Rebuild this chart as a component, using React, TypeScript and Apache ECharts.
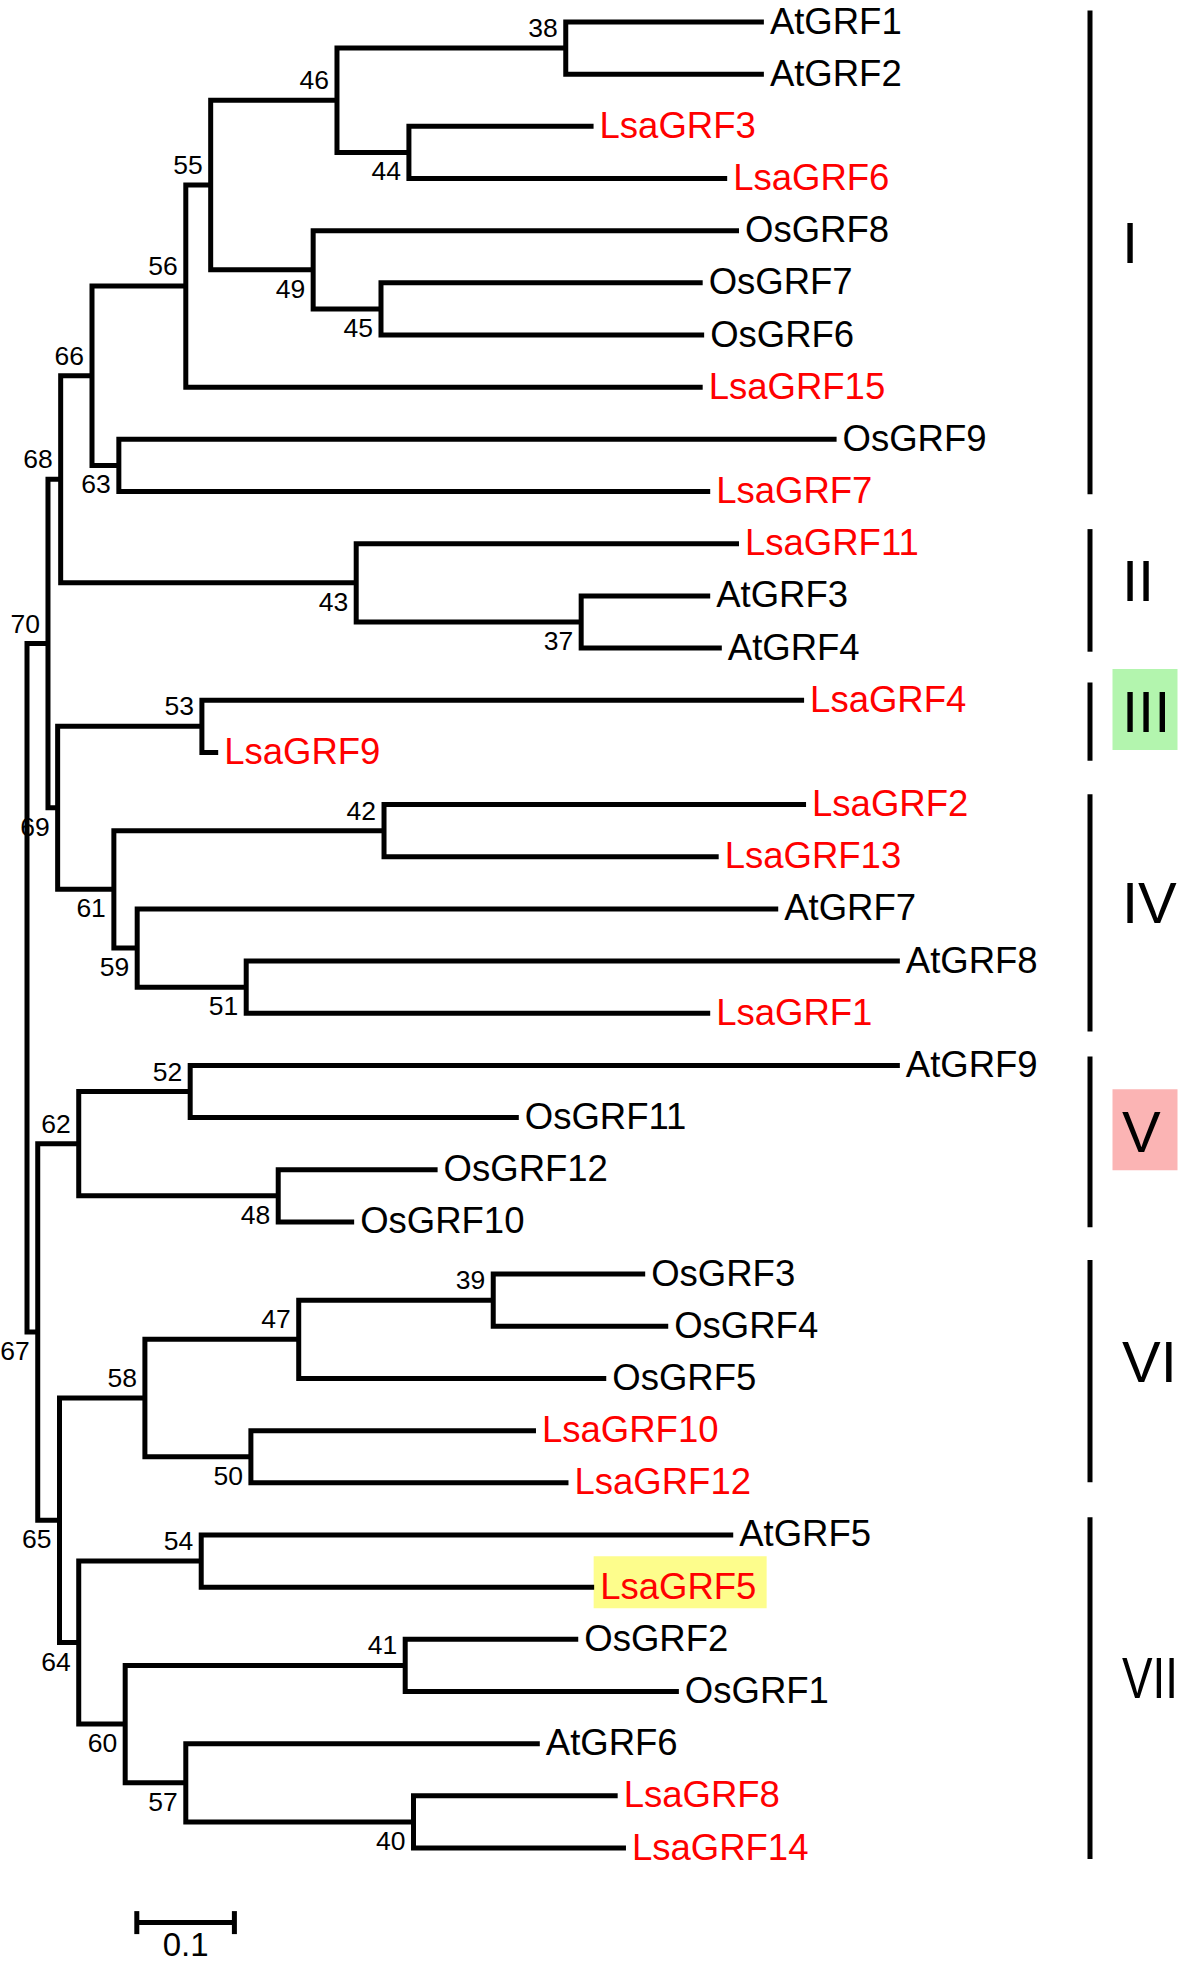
import { useEffect, useRef } from "react";
import * as echarts from "echarts";

// ---------------- data ----------------
const leafNames = [
  "AtGRF1", "AtGRF2", "LsaGRF3", "LsaGRF6", "OsGRF8", "OsGRF7", "OsGRF6", "LsaGRF15",
  "OsGRF9", "LsaGRF7", "LsaGRF11", "AtGRF3", "AtGRF4", "LsaGRF4", "LsaGRF9", "LsaGRF2",
  "LsaGRF13", "AtGRF7", "AtGRF8", "LsaGRF1", "AtGRF9", "OsGRF11", "OsGRF12", "OsGRF10",
  "OsGRF3", "OsGRF4", "OsGRF5", "LsaGRF10", "LsaGRF12", "AtGRF5", "LsaGRF5", "OsGRF2",
  "OsGRF1", "AtGRF6", "LsaGRF8", "LsaGRF14",
];
// distance from the root (substitutions per site)
const leafDepth = [
  0.755, 0.755, 0.5805, 0.7174, 0.7295, 0.6923, 0.6938, 0.6923,
  0.8295, 0.7, 0.7295, 0.7, 0.7119, 0.7962, 0.1959, 0.7982,
  0.7087, 0.7697, 0.8943, 0.7, 0.8943, 0.5039, 0.4207, 0.3352,
  0.6334, 0.657, 0.5935, 0.5215, 0.5548, 0.7236, 0.5811, 0.5648,
  0.6679, 0.5254, 0.6052, 0.6137,
];

const nodeIds = [
  "root", "n70", "n68", "n66", "n56", "n55", "n46", "n38", "n44", "n49", "n45", "n63",
  "n43", "n37", "n69", "n53", "n61", "n42", "n59", "n51", "n67", "n62", "n52", "n48",
  "n65", "n58", "n47", "n39", "n50", "n64", "n54", "n60", "n41", "n57", "n40",
];
const nodeChildren = [
  ["n70", "n67"], ["n68", "n69"], ["n66", "n43"], ["n56", "n63"], ["n55", "LsaGRF15"],
  ["n46", "n49"], ["n38", "n44"], ["AtGRF1", "AtGRF2"], ["LsaGRF3", "LsaGRF6"],
  ["OsGRF8", "n45"], ["OsGRF7", "OsGRF6"], ["OsGRF9", "LsaGRF7"], ["LsaGRF11", "n37"],
  ["AtGRF3", "AtGRF4"], ["n53", "n61"], ["LsaGRF4", "LsaGRF9"], ["n42", "n59"],
  ["LsaGRF2", "LsaGRF13"], ["AtGRF7", "n51"], ["AtGRF8", "LsaGRF1"], ["n62", "n65"],
  ["n52", "n48"], ["AtGRF9", "OsGRF11"], ["OsGRF12", "OsGRF10"], ["n58", "n64"],
  ["n47", "n50"], ["n39", "OsGRF5"], ["OsGRF3", "OsGRF4"], ["LsaGRF10", "LsaGRF12"],
  ["n54", "n60"], ["AtGRF5", "LsaGRF5"], ["n41", "n57"], ["OsGRF2", "OsGRF1"],
  ["AtGRF6", "n40"], ["LsaGRF8", "LsaGRF14"],
];
const nodeDepth = [
  0, 0.0215, 0.0345, 0.0666, 0.1627, 0.1882, 0.3176, 0.552, 0.3913, 0.2932, 0.3627, 0.0941,
  0.3373, 0.5678, 0.0314, 0.1792, 0.089, 0.3658, 0.1129, 0.2246, 0.011, 0.053, 0.1672, 0.2574,
  0.0333, 0.1208, 0.2784, 0.4777, 0.2294, 0.053, 0.1785, 0.1006, 0.3875, 0.1627, 0.396,
];
const nodeSupport: (number | null)[] = [
  null, 70, 68, 66, 56, 55, 46, 38, 44, 49, 45, 63,
  43, 37, 69, 53, 61, 42, 59, 51, 67, 62, 52, 48,
  65, 58, 47, 39, 50, 64, 54, 60, 41, 57, 40,
];

const cladeNames = ["I", "II", "III", "IV", "V", "VI", "VII"];
// clade bar extents, in leaf rows
const cladeStart = [-0.22, 9.72, 12.66, 14.8, 19.83, 23.73, 28.66];
const cladeEnd = [9.05, 12.07, 14.16, 19.35, 23.1, 27.99, 35.21];

const highlightedLeaves = ["LsaGRF5"];
const scaleBarLength = 0.1;
const scaleBarLabel = "0.1";

// ---------------- styles ----------------
const FONT = '"Liberation Sans", Arial, Helvetica, sans-serif';
const RED = "#ff0000";
const LINE_W = 5;
const cladeBoxColor: Record<string, string> = { III: "#b3f5ae", V: "#fbb4b4" };
const leafBoxColor = "#fdfd8c";
const CLADE_TEXT_X = 1122;
const CLADE_TEXT_MAX_RIGHT = 1178;
const CLADE_FONT = 58;

type P = { d: number; y: number };

function layout() {
  const pos: Record<string, P> = {};
  leafNames.forEach((n, i) => (pos[n] = { d: leafDepth[i], y: i }));
  const parentOf: Record<string, { parent: number; order: number }> = {};
  nodeChildren.forEach((ch, k) => ch.forEach((c, j) => (parentOf[c] = { parent: k, order: j })));
  const place = (id: string): P => {
    if (pos[id]) return pos[id];
    const k = nodeIds.indexOf(id);
    const ps = nodeChildren[k].map(place);
    pos[id] = { d: nodeDepth[k], y: ps.reduce((s, p) => s + p.y, 0) / ps.length };
    return pos[id];
  };
  place("root");
  return { pos, parentOf };
}

let measureCtx: CanvasRenderingContext2D | null = null;
function textWidth(text: string, size: number) {
  if (!measureCtx) measureCtx = document.createElement("canvas").getContext("2d");
  if (!measureCtx) return text.length * size * 0.6;
  measureCtx.font = `${size}px ${FONT}`;
  return measureCtx.measureText(text).width;
}

function buildOption() {
  const { pos, parentOf } = layout();

  const branchData = nodeIds.map((id, k) => {
    const p = pos[id];
    const a = pos[nodeChildren[k][0]];
    const b = pos[nodeChildren[k][1]];
    return [p.d, p.y, a.d, a.y, b.d, b.y];
  });

  const supportData: number[][] = [];
  nodeIds.forEach((id, k) => {
    const s = nodeSupport[k];
    if (s == null) return;
    supportData.push([pos[id].d, pos[id].y, parentOf[id].order === 0 ? -1 : 1, s]);
  });

  const leafData = leafNames.map((_, i) => [leafDepth[i], i]);
  const highlightData = highlightedLeaves.map((n) => [pos[n].d, pos[n].y]);
  const cladeData = cladeNames.map((_, i) => [cladeStart[i], cladeEnd[i]]);

  const textStyle = (text: string, size: number, fill: string, align: string, lineHeight?: number) => ({
    text,
    fill,
    fontSize: size,
    fontFamily: FONT,
    lineHeight: lineHeight ?? size,
    align,
    verticalAlign: "middle",
    textAlign: align,
    textVerticalAlign: "middle",
  });

  return {
    animation: false,
    backgroundColor: "#ffffff",
    grid: { left: 27, top: 22, width: 976, height: 1826, containLabel: false },
    xAxis: { type: "value", min: 0, max: 1, show: false },
    yAxis: { type: "value", min: 0, max: 35, inverse: true, show: false },
    series: [
      {
        type: "custom",
        name: "highlight",
        coordinateSystem: "cartesian2d",
        clip: false,
        silent: true,
        z: 1,
        data: highlightData,
        renderItem: (_p: any, api: any) => {
          const c = api.coord([api.value(0), api.value(1)]);
          return {
            type: "rect",
            shape: { x: c[0] - 0.5, y: c[1] - 31, width: 173, height: 52 },
            style: { fill: leafBoxColor },
          };
        },
      },
      {
        type: "custom",
        name: "branches",
        coordinateSystem: "cartesian2d",
        clip: false,
        silent: true,
        z: 2,
        data: branchData,
        renderItem: (_p: any, api: any) => {
          const p = api.coord([api.value(0), api.value(1)]);
          const a = api.coord([api.value(2), api.value(3)]);
          const b = api.coord([api.value(4), api.value(5)]);
          return {
            type: "polyline",
            shape: {
              points: [
                [a[0], a[1]],
                [p[0], a[1]],
                [p[0], b[1]],
                [b[0], b[1]],
              ],
            },
            style: { stroke: "#000", lineWidth: LINE_W, fill: "none", lineJoin: "miter", lineCap: "butt" },
          };
        },
      },
      {
        type: "custom",
        name: "leaves",
        coordinateSystem: "cartesian2d",
        clip: false,
        silent: true,
        z: 3,
        data: leafData,
        renderItem: (params: any, api: any) => {
          const c = api.coord([api.value(0), api.value(1)]);
          const name = leafNames[params.dataIndex];
          return {
            type: "text",
            x: c[0] + 6,
            y: c[1] - 1,
            style: textStyle(name, 36.5, name.startsWith("Lsa") ? RED : "#000", "left", 28),
          };
        },
      },
      {
        type: "custom",
        name: "support",
        coordinateSystem: "cartesian2d",
        clip: false,
        silent: true,
        z: 3,
        data: supportData,
        renderItem: (_p: any, api: any) => {
          const c = api.coord([api.value(0), api.value(1)]);
          const side = api.value(2);
          return {
            type: "text",
            x: c[0] - 8,
            y: c[1] + (side < 0 ? -20 : 19),
            style: textStyle(String(api.value(3)), 26.5, "#000", "right", 22),
          };
        },
      },
      {
        type: "custom",
        name: "clades",
        coordinateSystem: "cartesian2d",
        clip: false,
        silent: true,
        z: 3,
        data: cladeData,
        renderItem: (params: any, api: any) => {
          const y1 = api.coord([0, api.value(0)])[1];
          const y2 = api.coord([0, api.value(1)])[1];
          const name = cladeNames[params.dataIndex];
          const ty = (y1 + y2) / 2 - 10;
          const w = textWidth(name, CLADE_FONT);
          const avail = CLADE_TEXT_MAX_RIGHT - CLADE_TEXT_X;
          const sx = w > avail ? avail / w : 1;
          const children: any[] = [];
          if (cladeBoxColor[name]) {
            children.push({
              type: "rect",
              shape: { x: 1112.5, y: ty - 42.5, width: 65, height: 81 },
              style: { fill: cladeBoxColor[name] },
            });
          }
          children.push({
            type: "line",
            shape: { x1: 1090, y1, x2: 1090, y2 },
            style: { stroke: "#000", lineWidth: 5, lineCap: "butt" },
          });
          children.push({
            type: "text",
            x: CLADE_TEXT_X,
            y: ty,
            scaleX: sx,
            originX: 0,
            originY: 0,
            style: textStyle(name, CLADE_FONT, "#000", "left", 48),
          });
          return { type: "group", children };
        },
      },
      {
        type: "custom",
        name: "scale",
        coordinateSystem: "cartesian2d",
        clip: false,
        silent: true,
        z: 3,
        data: [[0.1125, 36.43]],
        renderItem: (_p: any, api: any) => {
          const a = api.coord([api.value(0), api.value(1)]);
          const b = api.coord([api.value(0) + scaleBarLength, api.value(1)]);
          const st = { stroke: "#000", lineWidth: 5, lineCap: "butt" };
          return {
            type: "group",
            children: [
              { type: "line", shape: { x1: a[0], y1: a[1], x2: b[0], y2: b[1] }, style: st },
              { type: "line", shape: { x1: a[0], y1: a[1] - 11.5, x2: a[0], y2: a[1] + 11.5 }, style: st },
              { type: "line", shape: { x1: b[0], y1: b[1] - 11.5, x2: b[0], y2: b[1] + 11.5 }, style: st },
              {
                type: "text",
                x: (a[0] + b[0]) / 2,
                y: a[1] + 22,
                style: textStyle(scaleBarLabel, 33, "#000", "center", 24),
              },
            ],
          };
        },
      },
    ],
  };
}

export default function App() {
  const ref = useRef<HTMLDivElement>(null);
  useEffect(() => {
    document.body.style.margin = "0";
    const chart = echarts.init(ref.current as HTMLDivElement, null, { renderer: "svg" });
    chart.setOption(buildOption() as any);
    return () => chart.dispose();
  }, []);
  return <div ref={ref} style={{ width: 1180, height: 1965, background: "#fff" }} />;
}
